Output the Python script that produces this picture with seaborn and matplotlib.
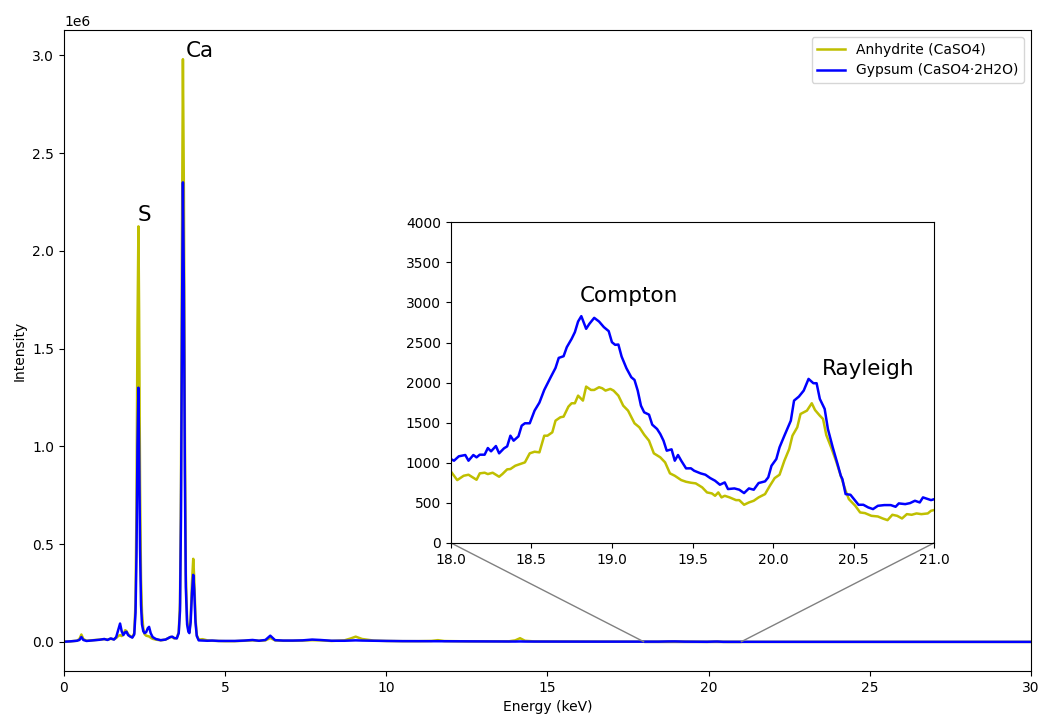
import numpy as np
import pandas as pd
import matplotlib
matplotlib.use("Agg")
import matplotlib.pyplot as plt
import seaborn as sns
from mpl_toolkits.axes_grid1.inset_locator import mark_inset

# ---------------- data ----------------
labels = ["Anhydrite (CaSO4)", "Gypsum (CaSO4·2H2O)"]
colors = ["y", "b"]

# 0 - 18 keV (common energy grid), counts
e_low = [0.00, 0.20, 0.40, 0.48, 0.54, 0.60, 0.70, 0.90, 1.10, 1.25, 1.35, 1.45, 1.55, 1.62,
         1.68, 1.74, 1.79, 1.84, 1.90, 1.94, 1.99, 2.05, 2.12, 2.18, 2.22, 2.25, 2.28, 2.31,
         2.33, 2.36, 2.39, 2.42, 2.46, 2.50, 2.55, 2.60, 2.64, 2.69, 2.75, 2.85, 3.00, 3.15,
         3.30, 3.36, 3.42, 3.50, 3.56, 3.60, 3.63, 3.66, 3.69, 3.72, 3.75, 3.78, 3.82, 3.86,
         3.89, 3.93, 3.97, 4.01, 4.04, 4.08, 4.12, 4.18, 4.30, 4.45, 4.60, 4.80, 5.00, 5.30,
         5.60, 5.85, 6.05, 6.25, 6.40, 6.55, 6.80, 7.10, 7.40, 7.70, 7.95, 8.30, 8.70, 8.90,
         9.05, 9.25, 9.60, 10.0, 10.5, 11.0, 11.4, 11.6, 11.8, 12.5, 13.2, 13.8, 14.0, 14.15,
         14.3, 14.6, 15.5, 16.5, 17.5, 17.96]
anh_low = [1000, 3000, 6000, 15000, 38000, 15000, 6000, 9000, 12000, 14000, 12000, 16000, 14000, 20000,
           30000, 35000, 30000, 38000, 60000, 55000, 40000, 30000, 25000, 45000, 200000, 700000, 1600000, 2125000,
           1700000, 800000, 320000, 150000, 70000, 40000, 32000, 30000, 28000, 22000, 16000, 12000, 8000, 12000,
           25000, 25000, 18000, 20000, 50000, 200000, 800000, 2000000, 2980000, 2300000, 1100000, 350000, 110000, 60000,
           50000, 120000, 300000, 425000, 330000, 120000, 35000, 12000, 14000, 8000, 6000, 5000, 4000, 4000,
           6000, 8000, 6000, 8000, 20000, 8000, 6000, 6000, 7000, 9000, 8000, 5000, 8000, 18000,
           27000, 15000, 7000, 5000, 4000, 4000, 5000, 9000, 4500, 3000, 3000, 3000, 8000, 19000,
           6000, 2500, 2000, 1500, 1000, 900]
gyp_low = [1000, 3000, 6000, 10000, 25000, 10000, 5000, 8000, 11000, 15000, 10000, 18000, 12000, 25000,
           60000, 94000, 55000, 35000, 50000, 52000, 35000, 28000, 22000, 38000, 150000, 450000, 1000000, 1300000,
           1000000, 480000, 190000, 90000, 55000, 45000, 50000, 70000, 77000, 45000, 25000, 15000, 9000, 12000,
           25000, 27000, 20000, 18000, 45000, 160000, 640000, 1600000, 2350000, 1820000, 870000, 280000, 90000, 52000,
           45000, 100000, 250000, 343000, 270000, 100000, 30000, 8000, 7000, 6000, 7000, 5000, 5000, 5000,
           7000, 10000, 6000, 10000, 32000, 9000, 7000, 7000, 8000, 12000, 10000, 6000, 6000, 7000,
           8000, 7000, 6000, 5000, 4000, 4000, 3500, 3500, 3500, 3000, 2500, 2000, 2000, 2500,
           2000, 2000, 1800, 1500, 1200, 1050]

# 18 - 21 keV (scatter region), counts
e_anh_mid = [18.00, 18.04, 18.08, 18.11, 18.16, 18.18, 18.21, 18.23, 18.26, 18.30, 18.32, 18.35, 18.37, 18.40,
             18.43, 18.46, 18.49, 18.52, 18.55, 18.58, 18.60, 18.63, 18.65, 18.68, 18.70, 18.73, 18.75, 18.77,
             18.79, 18.82, 18.84, 18.87, 18.89, 18.92, 18.94, 18.96, 18.99, 19.01, 19.04, 19.07, 19.10, 19.14,
             19.17, 19.20, 19.23, 19.26, 19.30, 19.33, 19.36, 19.39, 19.43, 19.46, 19.49, 19.52, 19.56, 19.59,
             19.62, 19.64, 19.66, 19.68, 19.70, 19.73, 19.77, 19.79, 19.82, 19.85, 19.88, 19.91, 19.95, 19.98,
             20.01, 20.04, 20.07, 20.10, 20.12, 20.15, 20.17, 20.21, 20.24, 20.26, 20.29, 20.31, 20.33, 20.36,
             20.39, 20.42, 20.45, 20.47, 20.51, 20.54, 20.57, 20.61, 20.65, 20.68, 20.71, 20.74, 20.77, 20.80,
             20.83, 20.86, 20.89, 20.92, 20.96, 20.98]
anh_mid = [892, 783, 837, 850, 787, 867, 875, 858, 875, 825, 858, 917, 921, 962,
           983, 1004, 1117, 1137, 1129, 1337, 1337, 1379, 1525, 1567, 1575, 1700, 1742, 1742,
           1837, 1775, 1950, 1908, 1908, 1942, 1929, 1900, 1921, 1900, 1837, 1712, 1650, 1492,
           1442, 1350, 1275, 1117, 1067, 1004, 867, 837, 783, 762, 750, 742, 692, 629,
           617, 587, 629, 567, 587, 567, 533, 533, 475, 504, 525, 567, 608, 712,
           808, 850, 1025, 1171, 1337, 1442, 1608, 1650, 1742, 1658, 1587, 1546, 1346, 1192,
           1025, 837, 650, 546, 462, 379, 371, 337, 329, 304, 283, 350, 337, 304,
           358, 350, 367, 358, 367, 400]

e_gyp_mid = [18.00, 18.02, 18.05, 18.09, 18.11, 18.14, 18.16, 18.18, 18.21, 18.23, 18.25, 18.28, 18.30, 18.33,
             18.35, 18.37, 18.39, 18.42, 18.44, 18.46, 18.49, 18.52, 18.55, 18.58, 18.62, 18.65, 18.67, 18.70,
             18.72, 18.75, 18.77, 18.79, 18.81, 18.84, 18.86, 18.89, 18.92, 18.95, 18.98, 19.00, 19.02, 19.04,
             19.06, 19.09, 19.12, 19.14, 19.16, 19.18, 19.20, 19.23, 19.25, 19.28, 19.30, 19.32, 19.34, 19.37,
             19.39, 19.41, 19.43, 19.46, 19.49, 19.51, 19.55, 19.58, 19.61, 19.64, 19.67, 19.70, 19.72, 19.76,
             19.79, 19.82, 19.85, 19.88, 19.91, 19.95, 19.97, 19.99, 20.02, 20.04, 20.07, 20.11, 20.13, 20.16,
             20.19, 20.22, 20.25, 20.27, 20.29, 20.32, 20.34, 20.37, 20.40, 20.42, 20.43, 20.45, 20.48, 20.51,
             20.53, 20.56, 20.59, 20.62, 20.65, 20.69, 20.73, 20.76, 20.78, 20.82, 20.85, 20.88, 20.91, 20.93,
             20.96, 20.98]
gyp_mid = [1046, 1025, 1080, 1096, 1025, 1096, 1067, 1100, 1100, 1183, 1142, 1208, 1117, 1179,
           1204, 1337, 1275, 1329, 1462, 1492, 1492, 1650, 1750, 1908, 2067, 2183, 2308, 2329,
           2442, 2546, 2629, 2762, 2829, 2671, 2733, 2808, 2762, 2692, 2642, 2504, 2471, 2475,
           2325, 2179, 2067, 2033, 1900, 1712, 1629, 1600, 1475, 1421, 1358, 1275, 1150, 1167,
           1025, 1096, 1025, 929, 930, 900, 867, 850, 808, 775, 725, 754, 671, 679,
           663, 621, 679, 663, 746, 767, 817, 962, 1046, 1192, 1337, 1525, 1775, 1825,
           1900, 2046, 1992, 1992, 1796, 1671, 1421, 1192, 983, 837, 796, 608, 600, 525,
           475, 475, 442, 421, 462, 471, 471, 450, 492, 483, 496, 525, 504, 567,
           546, 533]

# 21 - 30 keV (common energy grid), counts
e_high = [21.0, 21.5, 22.0, 23.0, 24.0, 25.0, 26.0, 27.0, 28.0, 29.0, 30.0]
anh_high = [410, 400, 380, 350, 320, 300, 280, 260, 240, 220, 200]
gyp_high = [545, 520, 480, 440, 400, 370, 340, 310, 290, 270, 250]

# text annotations
peak_labels = ["S", "Ca"]
peak_pos = [(2.3, 2.15e6), (3.78, 2.99e6)]
scatter_labels = ["Compton", "Rayleigh"]
scatter_pos = [(18.8, 3000), (20.3, 2100)]

# ---------------- assemble ----------------
energy_anh = e_low + e_anh_mid + e_high
energy_gyp = e_low + e_gyp_mid + e_high
df = pd.concat([
    pd.DataFrame({"Energy": energy_anh, "Intensity": anh_low + anh_mid + anh_high, "Sample": labels[0]}),
    pd.DataFrame({"Energy": energy_gyp, "Intensity": gyp_low + gyp_mid + gyp_high, "Sample": labels[1]}),
], ignore_index=True)

fig = plt.figure(figsize=(10.42, 7.15), dpi=100)
ax = fig.add_axes([0.0614, 0.0615, 0.928, 0.8965])

for lab, col in zip(labels, colors):
    sub = df[df["Sample"] == lab]
    sns.lineplot(data=sub, x="Energy", y="Intensity", color=col, lw=1.8,
                 estimator=None, sort=False, label=lab, ax=ax)

ax.set_xlim(0, 30)
ax.set_xlabel("Energy (keV)")
ax.set_ylabel("Intensity")
ax.legend(loc="upper right")

for t, (x, y) in zip(peak_labels, peak_pos):
    ax.text(x, y, t, fontsize=15.5)

axins = ax.inset_axes([0.4, 0.2, 0.5, 0.5])
for lab, col in zip(labels, colors):
    sub = df[df["Sample"] == lab]
    sns.lineplot(data=sub, x="Energy", y="Intensity", color=col, lw=1.8,
                 estimator=None, sort=False, legend=False, ax=axins)
axins.set_xlim(18, 21)
axins.set_ylim(0, 4000)
axins.set_xlabel("")
axins.set_ylabel("")
for t, (x, y) in zip(scatter_labels, scatter_pos):
    axins.text(x, y, t, fontsize=15.5)

mark_inset(ax, axins, loc1=3, loc2=4, fc="none", ec="0.5")

fig.savefig("out.png", dpi=100)
